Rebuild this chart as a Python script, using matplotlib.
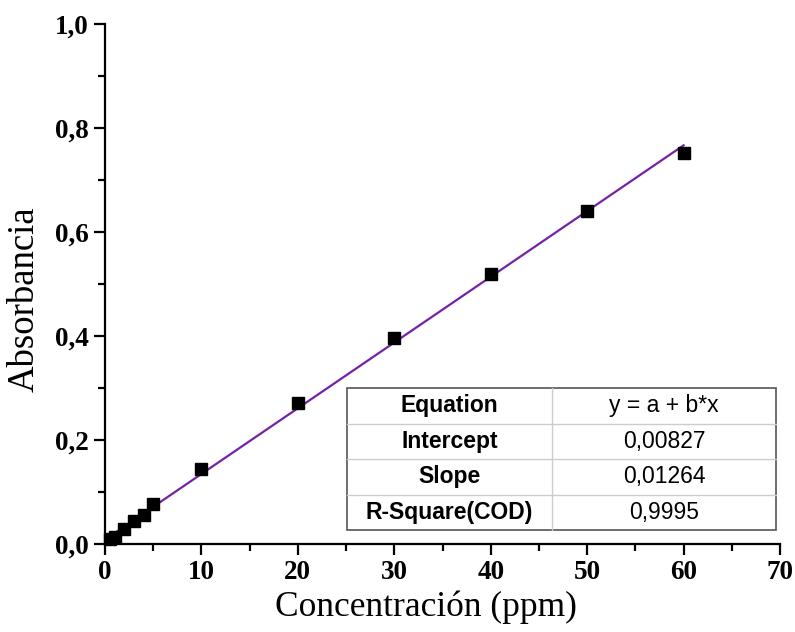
import matplotlib
matplotlib.use("Agg")
import matplotlib.pyplot as plt
from matplotlib.ticker import MultipleLocator, FuncFormatter
from matplotlib.patches import Rectangle
import numpy as np

# Data
conc = [0.5, 1, 2, 3, 4, 5, 10, 20, 30, 40, 50, 60]
absorb = [0.010, 0.014, 0.028, 0.045, 0.056, 0.077, 0.144, 0.272, 0.396, 0.519, 0.640, 0.751]
intercept = 0.00827
slope = 0.01264
table_labels = ["Equation", "Intercept", "Slope", "R-Square(COD)"]
table_values = ["y = a + b*x", "0,00827", "0,01264", "0,9995"]

fig = plt.figure(figsize=(7.95, 6.32), dpi=100)
ax = fig.add_axes([105/795, 1-544/632, 675/795, 520/632])

xfit = np.array([min(conc), max(conc)])
ax.plot(xfit, intercept + slope*xfit, color="#7422a8", lw=1.6, zorder=2)
ax.plot(conc, absorb, ls="none", marker="s", ms=9, color="black", clip_on=False, zorder=3)

ax.set_xlim(0, 70)
ax.set_ylim(0, 1.0)
ax.spines["top"].set_visible(False)
ax.spines["right"].set_visible(False)
for s in ["left", "bottom"]:
    ax.spines[s].set_linewidth(1.6)

ax.xaxis.set_major_locator(MultipleLocator(10))
ax.xaxis.set_minor_locator(MultipleLocator(5))
ax.yaxis.set_major_locator(MultipleLocator(0.2))
ax.yaxis.set_minor_locator(MultipleLocator(0.1))
ax.yaxis.set_major_formatter(FuncFormatter(lambda v, p: f"{v:.1f}".replace(".", ",")))
ax.xaxis.set_major_formatter(FuncFormatter(lambda v, p: f"{v:.0f}"))
ax.tick_params(which="major", length=8, width=1.6, direction="out")
ax.tick_params(which="minor", length=5, width=1.6, direction="out")

for lab in ax.get_xticklabels() + ax.get_yticklabels():
    lab.set_fontfamily("Liberation Serif")
    lab.set_fontweight("bold")
    lab.set_fontsize(19.5)

ax.set_xlabel("Concentración (ppm)", fontfamily="Liberation Serif", fontsize=25.5)
ax.set_ylabel("Absorbancia", fontfamily="Liberation Serif", fontsize=26.5)
ax.xaxis.set_label_coords(0.475, -0.09)
ax.yaxis.set_label_coords(-0.094, 0.47)

# Table
x0, x1 = (347-105)/675, (776-105)/675
ytop, ybot = (544-388)/520, (544-530)/520
xmid = (552-105)/675
n = len(table_labels)
rh = (ytop - ybot) / n
ax.add_patch(Rectangle((x0, ybot), x1-x0, ytop-ybot, transform=ax.transAxes,
                       facecolor="white", edgecolor="#555555", lw=1.2, zorder=4))
for i in range(1, n):
    yy = ytop - i*rh
    ax.plot([x0, x1], [yy, yy], transform=ax.transAxes, color="#cccccc", lw=1.0, zorder=5)
ax.plot([xmid, xmid], [ybot, ytop], transform=ax.transAxes, color="#cccccc", lw=1.0, zorder=5)
for i, (l, v) in enumerate(zip(table_labels, table_values)):
    yc = ytop - (i+0.5)*rh
    ax.text((x0+xmid)/2, yc, l, transform=ax.transAxes, ha="center", va="center",
            fontfamily="Liberation Sans", fontweight="bold", fontsize=16.5, zorder=6)
    ax.text((xmid+x1)/2, yc, v, transform=ax.transAxes, ha="center", va="center",
            fontfamily="Liberation Sans", fontsize=16.5, zorder=6)

fig.savefig("out.png", dpi=100)
